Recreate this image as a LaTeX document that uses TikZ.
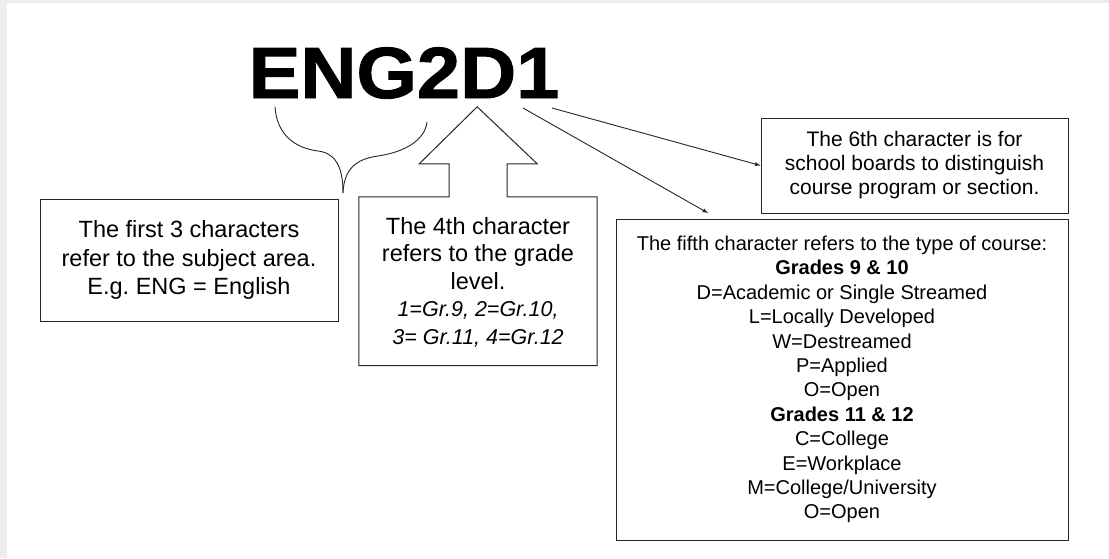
\documentclass[tikz,border=0pt]{standalone}
\usepackage{fontspec}
\setmainfont{Liberation Sans}
\newfontfamily\codefont[FakeBold=1.2]{Liberation Sans Bold}
\usetikzlibrary{arrows,positioning}
\newcommand{\gradefont}{\fontsize{21.5}{27.5}\selectfont\itshape}
\frenchspacing

\begin{document}
\begin{tikzpicture}[x=1pt, y=-1pt, >=latex]
	\tikzstyle{every node} = [rectangle, inner sep=0pt, align=center]
	\tikzstyle{infobox} = [draw=black!85, line width=1pt]
	\useasboundingbox (0,0) rectangle (1109,558);
	\fill[black!7] (0,0) rectangle (1109,558);
	\fill[white] (7,3) rectangle (1109,558);
	% course code
	\node[anchor=base] (code) at (404,98) {\scalebox{1.07}[1]{\fontsize{72.6}{80}\codefont ENG2D1}};
	% boxes
	\node[infobox, minimum width=298, minimum height=122, font=\fontsize{23.5}{28.5}\selectfont] (subject) at (189,260)
		{The first 3 characters\\ refer to the subject area.\\ E.g. ENG = English};
	\node[minimum width=238, minimum height=167, font=\fontsize{23.5}{27.5}\selectfont] (grade) at (478,282)
		{The 4th character\\ refers to the grade\\ level.\\
		 \gradefont 1=Gr.9, 2=Gr.10,\\ \gradefont 3= Gr.11, 4=Gr.12};
	\node[infobox, minimum width=307, minimum height=95, font=\fontsize{21}{24}\selectfont] (sixth) at (914.5,165.5)
		{The 6th character is for\\ school boards to distinguish\\ course program or section.};
	\node[infobox, minimum width=452, minimum height=321, font=\fontsize{20}{24.4}\selectfont] (fifth) at (842,379.5)
		{The fifth character refers to the type of course:\\
		 \textbf{Grades 9 \& 10}\\ D=Academic or Single Streamed\\ L=Locally Developed\\
		 W=Destreamed\\ P=Applied\\ O=Open\\ \textbf{Grades 11 \& 12}\\ C=College\\
		 E=Workplace\\ M=College/University\\ O=Open};
	% block arrow joined to the grade box
	\draw[infobox] ([yshift=1.5]grade.north west) -- (grade.south west) -- (grade.south east)
		-- ([yshift=1.5]grade.north east) -- ++(-90,0) -- ++(0,-33) -- ++(30,0) -- ++(-60,-57)
		-- ++(-58,57) -- ++(30,0) -- ++(0,33) -- cycle;
	% brace under ENG
	\draw[black!85, line width=0.9pt] (275,107) .. controls (277,135) and (295,148) .. (318,151)
		.. controls (335,153) and (343,166) .. (343,193);
	\draw[black!85, line width=0.9pt] (427,122) .. controls (425,140) and (405,152) .. (378,156)
		.. controls (355,159) and (344,170) .. (343,193);
	% arrows to the 5th and 6th character boxes
	\coordinate (sixthfrom) at (552,108);
	\coordinate (fifthfrom) at (523,108);
	\coordinate (fifthto)   at (708,213);
	\draw[->, line width=0.9pt, black!85] (sixthfrom) -- (sixth.west);
	\draw[->, line width=0.9pt, black!85] (fifthfrom) -- (fifthto);
\end{tikzpicture}
\end{document}
